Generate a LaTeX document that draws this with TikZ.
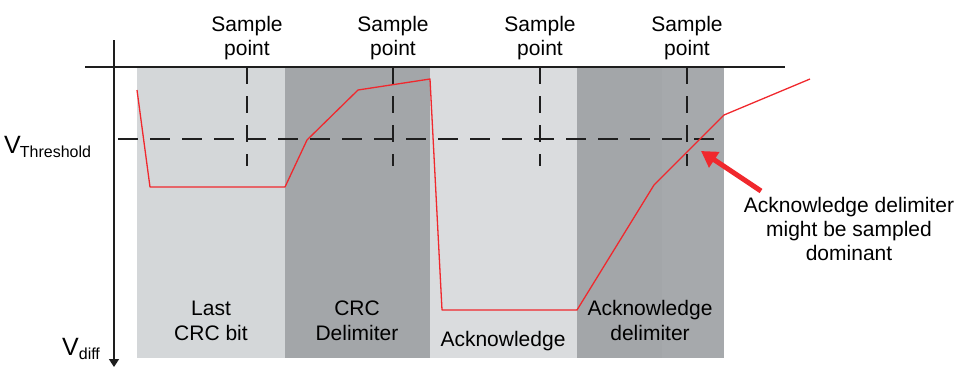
\documentclass[tikz,border=0pt]{standalone}
\usepackage{fontspec}
\setmainfont{Liberation Sans}
\usetikzlibrary{arrows.meta}
\definecolor{bandlight}{HTML}{D4D7D9}
\definecolor{bandlightb}{HTML}{DADCDE}
\definecolor{banddark}{HTML}{A3A6A9}
\definecolor{banddarkb}{HTML}{A6A9AC}
\definecolor{sigred}{HTML}{F0282D}
\definecolor{axisblk}{HTML}{1E1E1E}
\tikzset{
  lbl/.style={inner sep=0pt, anchor=base, font=\fontsize{21}{24}\selectfont, text=black},
  samp/.style={axisblk, line width=1.5pt, dash pattern=on 17pt off 12pt},
  thr/.style={axisblk, line width=1.5pt, dash pattern=on 20pt off 12pt},
  sig/.style={sigred, line width=1.3pt, line join=round},
}
\begin{document}
\begin{tikzpicture}[x=1pt, y=-1pt]
\useasboundingbox (0,0) rectangle (957,367);
% bands
\fill[bandlight] (137,67) rectangle (285,358);
\fill[banddark] (285,67) rectangle (430,358);
\fill[bandlightb] (430,67) rectangle (577,358);
\fill[banddark] (577,67) rectangle (662,358);
\fill[banddarkb] (662,67) rectangle (724,358);
% top line
\draw[axisblk, line width=2pt] (85,67) -- (785,67);
% threshold
\coordinate (thrA) at (118,139);
\coordinate (thrB) at (724,139);
\draw[thr] (thrA) -- (thrB);
% sample lines
\foreach \x/\n in {247/1,393/2,540/3,687/4}{
  \coordinate (st\n) at (\x,67);
  \coordinate (sb\n) at (\x,166);
  \draw[samp] (st\n) -- (sb\n);
  \node[lbl] (sa\n) at (\x,31) {Sample};
  \node[lbl] (sp\n) at (\x,55) {point};
}
% signal
\draw[sig] (137,90) -- (150,187) -- (285,187) -- (307,140) -- (358,90) -- (430,79)
  -- (442,310) -- (577,310) -- (654,185) -- (724,115) -- (810,79);
% axis
\coordinate (axT) at (114,40);
\coordinate (axB) at (114,367);
\draw[axisblk, line width=1.6pt, -{Triangle[length=8pt,width=10pt]}] (axT) -- (axB);
% labels
\node[inner sep=0pt, anchor=base west, font=\fontsize{25}{28}\selectfont] (vth) at (4,153)
  {V\kern-1pt\raisebox{-4pt}{\fontsize{16}{18}\selectfont Threshold}};
\node[inner sep=0pt, anchor=base west, font=\fontsize{25}{28}\selectfont] (vdf) at (62,355)
  {V\raisebox{-4pt}{\fontsize{16}{18}\selectfont diff}};
\node[lbl] (b1a) at (211,315) {Last};
\node[lbl] (b1b) at (211,340) {CRC bit};
\node[lbl] (b2a) at (357,315) {CRC};
\node[lbl] (b2b) at (357,340) {Delimiter};
\node[lbl] (b3a) at (503,346) {Acknowledge};
\node[lbl] (b4a) at (650,315) {Acknowledge};
\node[lbl] (b4b) at (650,340) {delimiter};
\node[lbl] (n1) at (849,212) {Acknowledge delimiter};
\node[lbl] (n2) at (849,236) {might be sampled};
\node[lbl] (n3) at (849,260) {dominant};
% red arrow
\coordinate (arT) at (761,191);
\coordinate (arH) at (701,151);
\draw[sigred, line width=5pt, -{Triangle[length=16pt,width=18pt]}] (arT) -- (arH);
\end{tikzpicture}
\end{document}
